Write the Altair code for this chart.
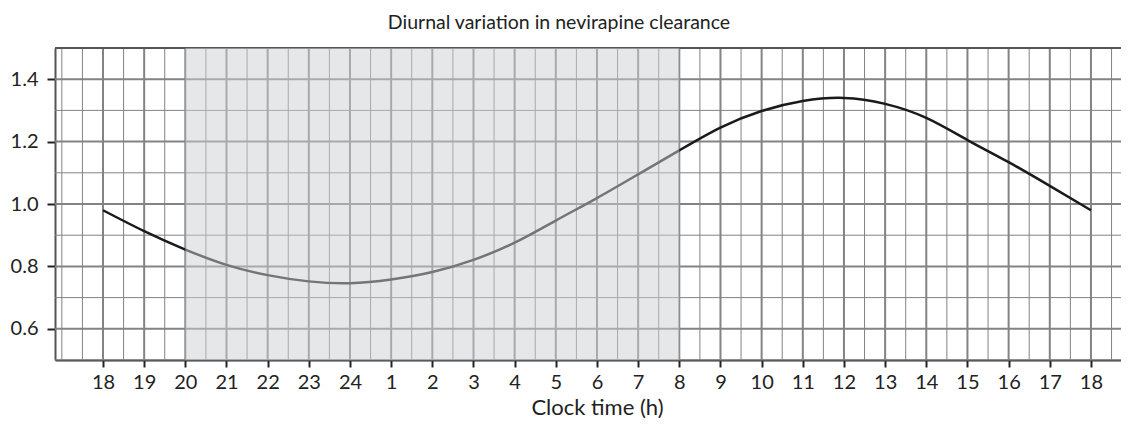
import altair as alt
import pandas as pd

# ---- data ----
clock_labels = ["18", "19", "20", "21", "22", "23", "24", "1", "2", "3", "4", "5", "6",
                "7", "8", "9", "10", "11", "12", "13", "14", "15", "16", "17", "18"]
clearance = [0.980, 0.913, 0.854, 0.805, 0.772, 0.752, 0.746, 0.758, 0.782, 0.821,
             0.876, 0.947, 1.019, 1.095, 1.172, 1.245, 1.298, 1.330, 1.340, 1.321,
             1.276, 1.205, 1.134, 1.058, 0.980]
night_from = "20"
night_to = "8"
y_major_ticks = [0.6, 0.8, 1.0, 1.2, 1.4]
y_grid_values = [0.5, 0.6, 0.7, 0.8, 0.9, 1.0, 1.1, 1.2, 1.3, 1.4, 1.5]
x_grid_values = [i * 0.5 for i in range(-2, 50)]   # half-hour grid (hours after 18:00)
x_domain = [-1.166, 24.73]
y_domain = [0.5, 1.5]

FONT = "Lato"
TXT = "#222222"
GRID = "#838387"
EDGE = "#555555"

hours = list(range(len(clock_labels)))
curve = pd.DataFrame({"t": hours, "clock": clock_labels, "cl": clearance})
night = pd.DataFrame({
    "start": [clock_labels.index(night_from)],
    "end": [clock_labels.index(night_to)],
    "lo": [y_domain[0]],
    "hi": [y_domain[1]],
})
vgrid = pd.DataFrame({
    "v": x_grid_values,
    "w": [2 if (v % 1 == 0 and v >= 0) else 1 for v in x_grid_values],
})
hgrid = pd.DataFrame({
    "v": y_grid_values,
    "w": [2 if (v in y_major_ticks or v == y_domain[1]) else 1 for v in y_grid_values],
    "c": [EDGE if v == y_domain[1] else GRID for v in y_grid_values],
})

label_arr = "[" + ",".join("'" + l + "'" for l in clock_labels) + "]"

x_scale = alt.Scale(domain=x_domain, nice=False, zero=False)
y_scale = alt.Scale(domain=y_domain, nice=False, zero=False)

x_axis = alt.Axis(
    values=hours,
    title="Clock time (h)",
    labelExpr=f"{label_arr}[datum.value]",
    labelOverlap=False, labelFlush=False,
    labelFont=FONT, labelFontSize=20, labelColor=TXT, labelPadding=5,
    tickSize=7, tickWidth=2, tickColor=TXT,
    domainColor="#333333", domainWidth=2,
    grid=False,
    titleFont=FONT, titleFontSize=22, titleFontWeight="normal", titleColor=TXT,
    titleY=54, titleBaseline="alphabetic", titleX=542,
)

y_axis = alt.Axis(
    values=y_major_ticks,
    title=None,
    format=".1f",
    labelOverlap=False, labelFlush=False,
    labelFont=FONT, labelFontSize=20, labelColor=TXT, labelPadding=9,
    tickSize=8, tickWidth=2, tickColor=TXT,
    domainColor=EDGE, domainWidth=2,
    grid=False,
)

vlines = alt.Chart(vgrid).mark_rule(color=GRID).encode(
    x=alt.X("v:Q", scale=x_scale, axis=x_axis),
    strokeWidth=alt.StrokeWidth("w:Q", scale=None),
)

hlines = alt.Chart(hgrid).mark_rule().encode(
    y=alt.Y("v:Q", scale=y_scale, axis=y_axis),
    strokeWidth=alt.StrokeWidth("w:Q", scale=None),
    color=alt.Color("c:N", scale=None),
)

line = alt.Chart(curve).mark_line(color="#1a1a1a", strokeWidth=2.5, interpolate="natural").encode(
    x=alt.X("t:Q", scale=x_scale),
    y=alt.Y("cl:Q", scale=y_scale),
)

shade = alt.Chart(night).mark_rect(color="#cdcfd3", opacity=0.5).encode(
    x="start:Q", x2="end:Q", y="lo:Q", y2="hi:Q",
)

chart = alt.layer(vlines, hlines, line, shade).properties(
    width=1066, height=312,
    title=alt.Title("Diurnal variation in nevirapine clearance", font=FONT, fontSize=19.5,
                    fontWeight="normal", color=TXT, anchor="middle", dx=-29, offset=14),
    autosize=alt.AutoSizeParams(type="none"),
    padding={"left": 47, "top": 40, "right": 0, "bottom": 60},
).configure_view(stroke=None).configure(background="white")

chart.save("out.html", embed_options={"renderer": "svg", "actions": False})
